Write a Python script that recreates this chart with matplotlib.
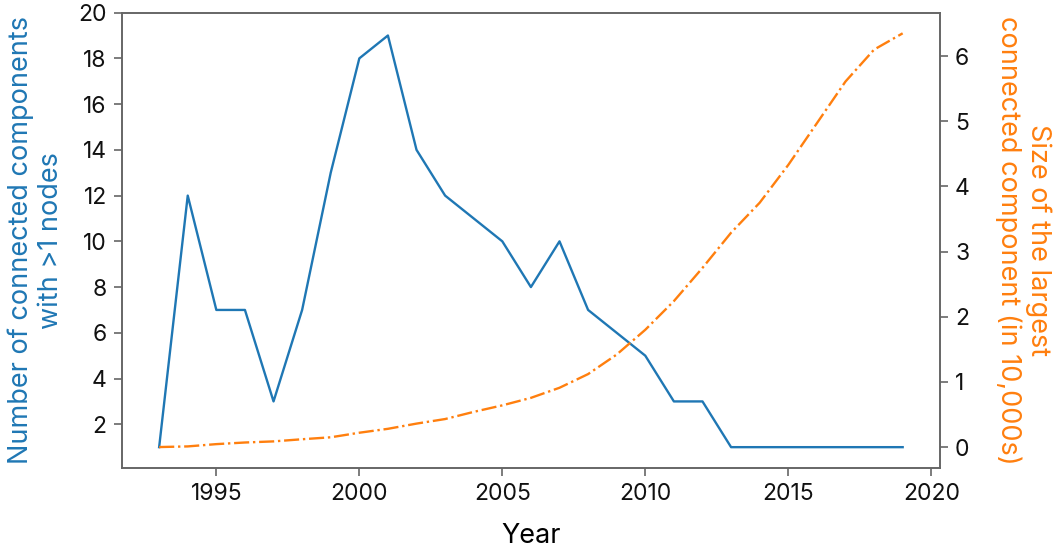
import matplotlib
matplotlib.use("Agg")
import matplotlib.pyplot as plt

years = list(range(1993, 2020))
n_components = [1, 12, 7, 7, 3, 7, 13, 18, 19, 14, 12, 11, 10, 8, 10, 7, 6, 5, 3, 3, 1, 1, 1, 1, 1, 1, 1]
largest_size = [0.0, 0.01, 0.045, 0.07, 0.087, 0.12, 0.15, 0.22, 0.28, 0.36, 0.43, 0.54, 0.64, 0.755,
                0.91, 1.12, 1.42, 1.8, 2.24, 2.75, 3.29, 3.75, 4.33, 4.97, 5.61, 6.1, 6.35]
left_ticks = [2, 4, 6, 8, 10, 12, 14, 16, 18, 20]
x_ticks = [1995, 2000, 2005, 2010, 2015, 2020]

plt.rcParams['font.family'] = ['Inter', 'DejaVu Sans']

fig = plt.figure(figsize=(10.56, 5.49), dpi=100)
ax = fig.add_axes([0.1155, 0.148, 0.7745, 0.829])
ax2 = ax.twinx()

blue = '#1f77b4'
orange = '#ff7f0e'
spine_c = '#666666'

ax.plot(years, n_components, color=blue, lw=1.7)
ax2.plot(years, largest_size, color=orange, lw=1.7, ls='-.')

ax.set_ylim(0.1, 20)
ax.set_yticks(left_ticks)
ax.set_xticks(x_ticks)
ax.set_xlim(1991.7, 2020.3)
ax2.set_ylim(-0.3175, 6.6675)
ax2.set_yticks([0, 1, 2, 3, 4, 5, 6])

for a in (ax, ax2):
    for s in a.spines.values():
        s.set_color(spine_c)
        s.set_linewidth(1.2)
    a.tick_params(colors=spine_c, labelcolor='#111111', labelsize=16.5, length=6, width=1.2, pad=5)

ax.set_xlabel('Year', fontsize=19.5, labelpad=13)
ax.set_ylabel('Number of connected components\nwith >1 nodes', fontsize=19.5, color=blue, labelpad=10.5)
ax2.set_ylabel('Size of the largest\nconnected component (in 10,000s)', fontsize=19.5, color=orange,
               rotation=270, labelpad=59)

fig.savefig('out.png', dpi=100)
